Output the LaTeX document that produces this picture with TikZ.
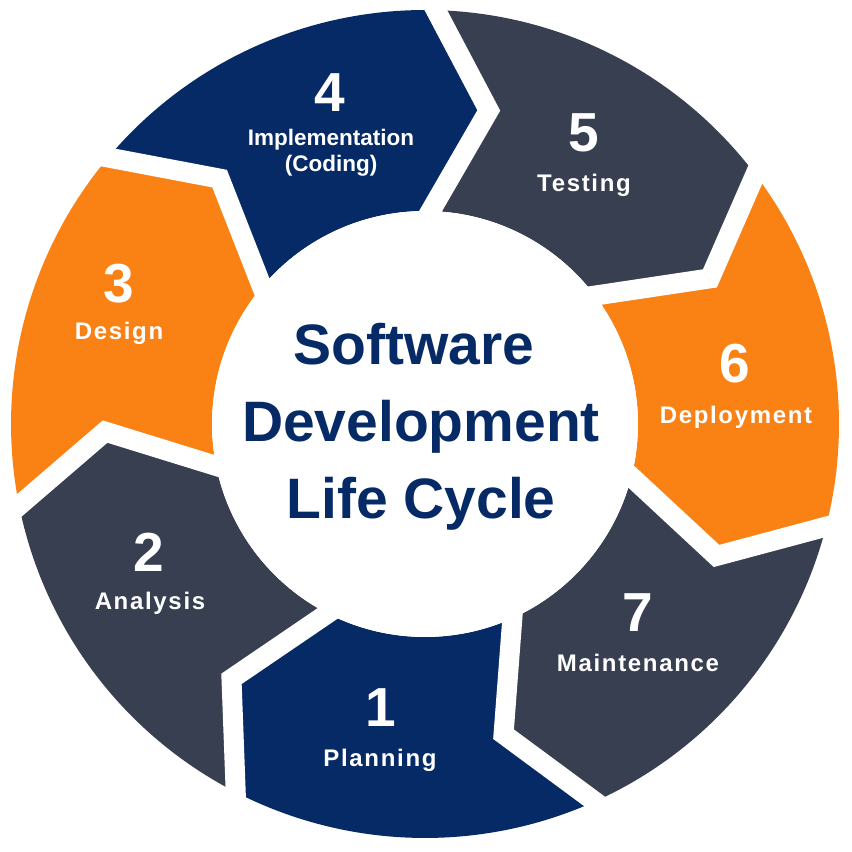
\documentclass[tikz,border=0pt]{standalone}
\usepackage{fontspec}
\setmainfont{Liberation Sans}
\usetikzlibrary{calc}
\definecolor{sdlcnavy}{RGB}{6,42,102}
\definecolor{sdlcslate}{RGB}{55,63,80}
\definecolor{sdlcorange}{RGB}{250,129,20}

\begin{document}
\begin{tikzpicture}[x=1pt,y=1pt,
  gap/.style={draw=white,line width=20pt,line join=miter},
  num/.style={text=white,anchor=base,inner sep=0pt,font={\bfseries\fontsize{55}{60}\selectfont}},
  lbl/.style={text=white,anchor=base,inner sep=0pt,font={\bfseries\fontsize{24}{28}\selectfont\addfontfeature{LetterSpace=7}}},
  lblsmall/.style={lbl,font={\bfseries\fontsize{22.5}{26}\selectfont}}]
  \useasboundingbox (0,0) rectangle (852,852);
  \begin{scope}[shift={(425,428)}]
    % ring segments, trailing angle / colour
    \foreach \t/\c in {139.93/sdlcnavy,88.5/sdlcslate,37.07/sdlcorange,-14.36/sdlcslate,
                       -65.79/sdlcnavy,-117.21/sdlcslate,-168.64/sdlcorange}
      \fill[\c] (\t:414) arc[start angle=\t,delta angle=-51.43,radius=414]
        -- ({\t-61.43}:320) -- ({\t-51.43}:213)
        arc[start angle={\t-51.43},delta angle=51.43,radius=213]
        -- ({\t-10}:320) -- cycle;
    % white gaps between segments
    \foreach \t in {139.93,88.5,37.07,-14.36,-65.79,-117.21,-168.64}
      \draw[gap] ($({\t-10}:320)!1.3!(\t:414)$) -- ({\t-10}:320) -- ($({\t-10}:320)!1.3!(\t:213)$);
    \fill[white] (0,0) circle[radius=213];
    \node[text=sdlcnavy,align=center,inner sep=0pt,font={\bfseries\fontsize{57}{77}\selectfont}]
      (title) at (-4,-3) {Software\hspace*{14pt}\\Development\\Life Cycle};
  \end{scope}
  \node[num] (n1) at (381,125) {1};
  \node[lbl] (planning) at (380,85) {Planning};
  \node[num] (n2) at (149,280) {2};
  \node[lbl] (analysis) at (150,242) {Analysis};
  \node[num] (n3) at (119,549) {3};
  \node[lbl] (design) at (119,512) {Design};
  \node[num] (n4) at (330,740) {4};
  \node[lblsmall] (impl) at (331,706) {Implementation};
  \node[lblsmall] (coding) at (331,680) {(Coding)};
  \node[num] (n5) at (584,700) {5};
  \node[lbl] (testing) at (584,660) {Testing};
  \node[num] (n6) at (735,469) {6};
  \node[lbl] (deploy) at (736,428) {Deployment};
  \node[num] (n7) at (638,220) {7};
  \node[lbl] (maint) at (638,180) {Maintenance};
\end{tikzpicture}
\end{document}
